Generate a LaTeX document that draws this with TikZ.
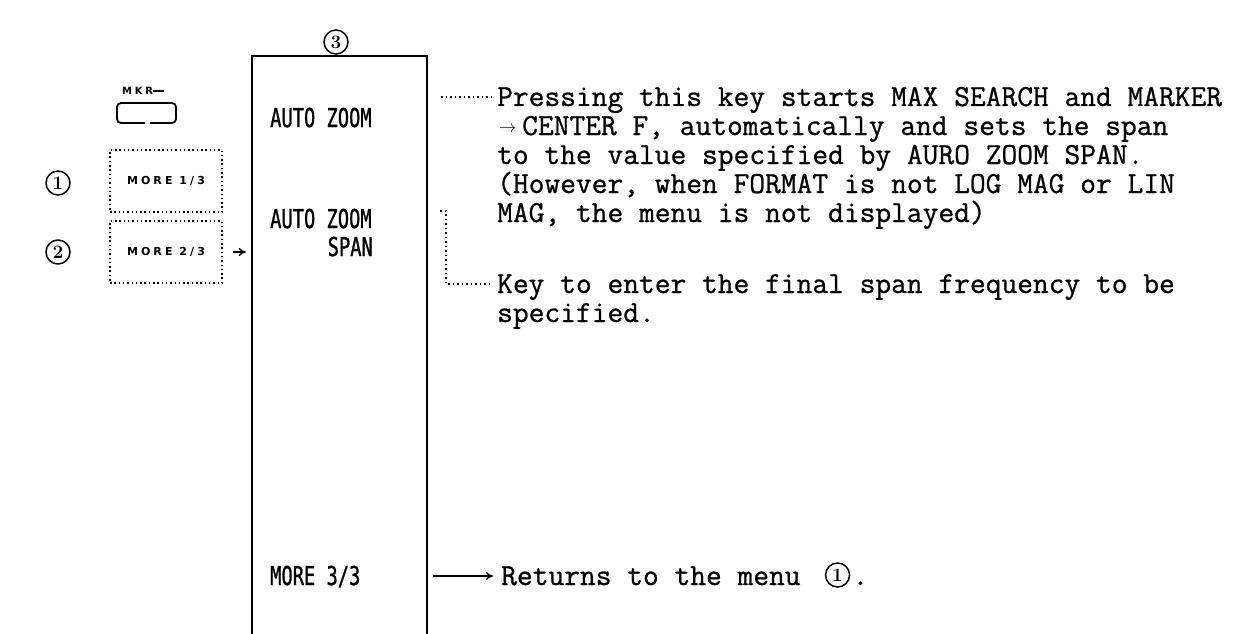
\documentclass[tikz,border=0pt]{standalone}
\usepackage{fontspec}
\usepackage{graphicx}
\newfontfamily\lblfont[FakeBold=1.2]{DejaVu Sans Mono}
\newfontfamily\descfont[FakeBold=0.8]{Latin Modern Mono}
\newfontfamily\keyfont[LetterSpace=28]{DejaVu Sans}
\usetikzlibrary{arrows.meta}
\tikzset{
  lbl/.style={anchor=base west, inner sep=0pt, font=\lblfont\fontsize{26}{26}\selectfont},
  desc/.style={anchor=base west, inner sep=0pt, font=\descfont\fontsize{30.6}{30.6}\selectfont},
  keybox/.style={draw, line width=1.5pt, dash pattern=on 1.5pt off 2.8pt, minimum width=112pt, minimum height=62pt, inner sep=0pt, font=\keyfont\bfseries\fontsize{11}{11}\selectfont},
  circnum/.style={circle, draw, line width=1.5pt, inner sep=0pt, minimum size=24pt, font=\bfseries\fontsize{19}{19}\selectfont},
  dotline/.style={line width=1.5pt, dash pattern=on 1.5pt off 3pt},
  arr/.style={line width=1.3pt, -{To[length=7pt,width=8pt]}},
  frame/.style={line width=2pt},
}
\begin{document}
\begin{tikzpicture}[x=1pt,y=-1pt]
\useasboundingbox (0,0) rectangle (1245,634);
% main menu column
\node[minimum width=175pt, minimum height=578pt, inner sep=0pt] (menu) at (339.5,345) {};
\draw[frame] (menu.south west) -- (menu.north west) -- (menu.north east) -- (menu.south east);
\node[circnum] (c3) at (336,42) {3};
% soft key labels
\node[lbl] (az1) at (270,127) {\scalebox{0.72}[1]{AUTO ZOOM}};
\node[lbl] (az2) at (270,228) {\scalebox{0.72}[1]{AUTO ZOOM}};
\node[lbl, anchor=base east] (span) at (373,256) {\scalebox{0.72}[1]{SPAN}};
\node[lbl] (more3) at (270,585) {\scalebox{0.72}[1]{MORE 3/3}};
% left side
\node[anchor=base west, inner sep=0pt, font=\keyfont\bfseries\fontsize{10}{10}\selectfont] (mkr) at (122,95) {MKR};
\coordinate (mkrA) at (153,91);
\coordinate (mkrB) at (164,91);
\draw[line width=2pt] (mkrA) -- (mkrB);
\coordinate (kb1) at (145,123);
\coordinate (kb2) at (150,123);
\draw[line width=1.8pt, rounded corners=4pt] (kb1) -- (117,123) -- (117,103) -- (176,103) -- (176,123) -- (kb2);
\node[keybox] (m1) at (166,181) {MORE 1/3};
\node[keybox] (m2) at (166,252) {MORE 2/3};
\node[circnum] (c1) at (58,183) {1};
\node[circnum] (c2) at (58,252) {2};
\draw[arr] ([xshift=10pt]m2.east) -- ([xshift=-6pt]menu.west |- m2.east);
% descriptions
\coordinate (d1a) at ([xshift=14pt]menu.east |- 0,97);
\coordinate (d1b) at (494,97);
\draw[dotline] (d1a) -- (d1b);
\node[desc] (t1) at (497,106) {Pressing this key starts MAX SEARCH and MARKER};
\node[anchor=base west, inner sep=0pt, font=\fontsize{18}{18}\selectfont] (t2a) at (499,132) {$\rightarrow$};
\node[desc] (t2) at (522,135) {CENTER F, automatically and sets the span};
\node[desc] (t3) at (497,164) {to the value specified by AURO ZOOM SPAN.};
\node[desc] (t4) at (497,193) {(However, when FORMAT is not LOG MAG or LIN};
\node[desc] (t5) at (497,222) {MAG, the menu is not displayed)};
\coordinate (b0) at (440,211);
\coordinate (b1) at (446,211);
\coordinate (b2) at (446,284);
\coordinate (b3) at (490,284);
\draw[dotline] (b0) -- (b1) -- (b2) -- (b3);
\node[desc] (k1) at (497,293) {Key to enter the final span frequency to be};
\node[desc] (k2) at (497,322) {specified.};
\coordinate (r0) at ([xshift=6pt]menu.east |- 0,576);
\node[desc] (r1) at (501,585) {Returns to the menu};
\draw[arr] (r0) -- ([xshift=-8pt]r1.west |- r0);
\node[circnum, anchor=west] (rc1) at ([xshift=24pt]r1.east |- 0,575) {1};
\node[desc, anchor=base west] (rdot) at ([xshift=2pt]rc1.east |- r1.base) {.};
\end{tikzpicture}
\end{document}
